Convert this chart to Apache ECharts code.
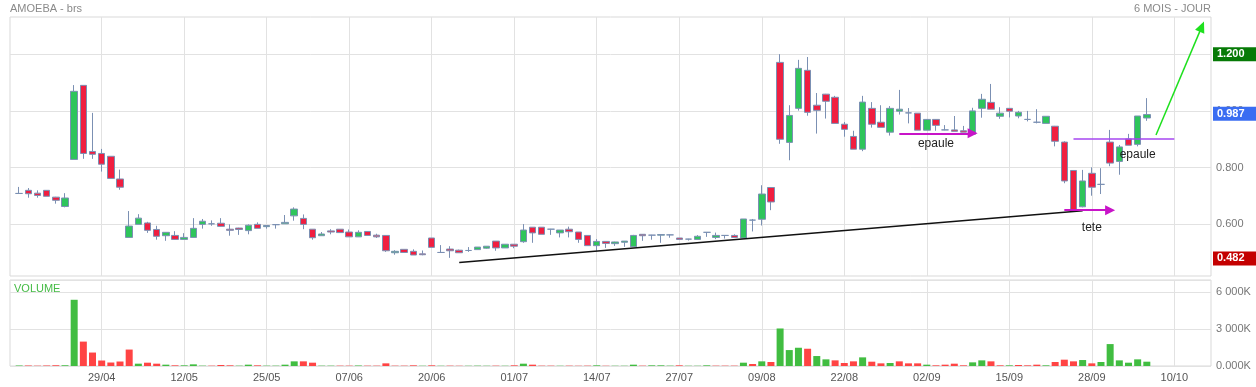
<!DOCTYPE html>
<html><head><meta charset="utf-8">
<script src="https://cdn.jsdelivr.net/npm/echarts@6/dist/echarts.min.js"></script>
<style>html,body{margin:0;padding:0;background:#fff}#c{width:1256px;height:387px}</style>
</head><body><div id="c"></div>
<script>
// ---- data ----
const opens  = [.709,.720,.710,.720,.696,.663,.829,1.090,.857,.850,.840,.760,.554,.600,.605,.582,.560,.561,.547,.554,
  .600,.602,.604,.583,.587,.578,.600,.592,.599,.602,.630,.621,.583,.560,.577,.583,.573,.556,.575,.562,
  .561,.500,.512,.505,.496,.552,.501,.513,.509,.508,.511,.516,.541,.517,.530,.539,.590,.590,.583,.570,
  .583,.573,.561,.525,.540,.532,.537,.521,.565,.562,.562,.563,.552,.548,.547,.572,.554,.561,.561,.552,
  .615,.618,.730,1.171,.889,1.009,1.143,1.020,1.059,1.048,.953,.910,.865,1.009,.960,.925,.999,.993,.992,.932,
  .970,.933,.933,.930,.918,1.009,1.030,.981,1.009,.982,.970,.960,.956,.946,.890,.790,.662,.780,.741,.890,
  .822,.901,.882,.975];
const closes = [.709,.708,.702,.699,.685,.693,1.069,.850,.847,.812,.762,.731,.594,.622,.579,.558,.572,.547,.554,.586,
  .611,.602,.593,.579,.582,.597,.586,.596,.599,.607,.654,.600,.553,.566,.573,.571,.556,.572,.561,.556,
  .507,.505,.501,.492,.493,.519,.501,.507,.500,.508,.520,.523,.517,.530,.523,.580,.570,.565,.583,.580,
  .574,.547,.525,.540,.533,.538,.541,.561,.560,.562,.564,.563,.547,.548,.558,.572,.561,.561,.554,.619,
  .615,.707,.679,.900,.984,1.150,.995,1.002,1.034,.956,.935,.865,1.031,.953,.942,1.009,1.006,.993,.932,.970,
  .949,.933,.928,.925,1.000,1.041,1.006,.992,.999,.995,.970,.960,.981,.893,.753,.650,.753,.731,.741,.816,
  .873,.879,.982,.987];
const lows   = [.707,.694,.694,.699,.673,.660,.829,.831,.831,.786,.762,.722,.554,.600,.570,.546,.542,.547,.547,.554,
  .585,.595,.593,.560,.563,.565,.586,.585,.585,.602,.613,.583,.546,.560,.565,.571,.556,.556,.561,.552,
  .503,.493,.501,.492,.491,.519,.501,.482,.500,.503,.511,.514,.507,.517,.516,.535,.535,.565,.563,.554,
  .554,.535,.525,.507,.517,.524,.521,.521,.542,.546,.535,.553,.547,.543,.547,.556,.548,.550,.554,.552,
  .575,.596,.650,.884,.826,1.001,.983,.920,.973,.956,.909,.865,.858,.941,.942,.913,.987,.956,.932,.932,
  .930,.932,.928,.925,.915,.976,1.006,.972,.977,.974,.963,.956,.956,.875,.745,.648,.660,.701,.707,.805,
  .775,.879,.875,.965];
const highs  = [.732,.728,.720,.720,.697,.710,1.091,1.090,.993,.866,.840,.793,.647,.636,.609,.595,.573,.576,.569,.622,
  .619,.614,.622,.600,.588,.600,.607,.597,.600,.633,.660,.635,.583,.573,.583,.583,.582,.579,.575,.567,
  .561,.509,.512,.512,.508,.552,.527,.523,.511,.520,.520,.523,.541,.530,.530,.601,.590,.590,.584,.580,
  .592,.573,.561,.548,.540,.539,.541,.563,.566,.563,.564,.564,.552,.549,.562,.573,.571,.562,.565,.619,
  .619,.738,.731,1.200,1.020,1.180,1.190,1.063,1.060,1.053,.961,.930,1.053,1.031,1.020,1.017,1.074,1.010,.992,.971,
  .971,.950,.982,.947,1.011,1.060,1.095,1.013,1.010,1.000,1.000,1.006,.981,.947,.893,.790,.792,.801,.798,.933,
  .880,.919,.982,1.045];
// volume in thousands of shares
const volumes = [40,40,25,40,60,60,5390,1986,1095,446,284,365,1338,189,270,189,108,54,54,135,
  27,27,81,54,27,108,54,27,27,108,378,378,270,27,27,27,27,40,27,27,
  216,27,27,54,20,54,20,27,20,20,27,20,27,20,54,189,108,27,27,20,
  27,20,27,54,20,20,20,108,27,54,54,27,54,20,20,54,27,27,27,270,
  162,378,324,3054,1297,1486,1405,811,541,459,243,378,703,351,216,243,378,216,216,108,
  54,108,189,54,297,459,378,54,54,81,54,108,54,324,514,378,486,216,324,1784,
  459,270,541,351];
// 1 = green volume bar, 0 = red volume bar
const volumeUp = [1,0,0,0,0,1,1,0,0,0,0,0,0,1,0,0,1,0,1,1,
  1,0,0,0,1,1,0,1,1,1,1,0,0,1,1,0,0,1,0,0,
  0,0,0,0,1,0,1,0,0,1,1,1,0,1,0,1,0,0,0,1,
  0,0,0,1,0,1,1,1,0,1,1,1,0,1,1,1,0,0,0,1,
  0,1,0,1,1,1,0,1,1,0,0,0,1,0,0,1,0,0,0,1,
  0,0,0,0,1,1,0,0,1,0,0,0,1,0,0,0,1,0,1,1,
  1,1,1,1];
const xTickLabels = ['29/04','12/05','25/05','07/06','20/06','01/07','14/07','27/07','09/08','22/08','02/09','15/09','28/09','10/10'];
const yTickValues = [0.6, 0.8, 1.0, 1.2];
const volTickLabels = ['0.000K', '3 000K', '6 000K'];

// ---- layout constants ----
const N_CATS = 132, FIRST_CAT = 1, LABEL_START = 10, LABEL_STEP = 9, VOL_STEP = 3000;
const FONT = 'Liberation Sans, Arial, sans-serif';
const UP = '#2ec55b', DOWN = '#f01e40', WICK = '#7b90b3';
const GRIDC = '#e2e2e2';

const categories = Array.from({length: N_CATS}, (_, i) => String(i));
const isLabelCat = (idx) => idx >= LABEL_START && (idx - LABEL_START) % LABEL_STEP === 0;
const candleData = opens.map((o, i) => [i + FIRST_CAT, o, closes[i], lows[i], highs[i]]);
const volData = volumes.map((v, i) => ({value: [i + FIRST_CAT, v], itemStyle: {color: volumeUp[i] ? '#41bd41' : '#ff4444'}}));

const periodHigh = Math.max(...highs);
const periodLow = Math.min(...lows);
const lastClose = closes[closes.length - 1];

function badge(v, bg) {
  return {yAxis: v, lineStyle: {color: 'rgba(0,0,0,0)', width: 1}, label: {show: true, position: 'end', distance: 2,
    formatter: v.toFixed(3), color: '#fff', fontSize: 11, fontWeight: 'bold', fontFamily: FONT,
    backgroundColor: bg, padding: [2, 16, 1, 4], lineHeight: 11}};
}
function seg(a, b, style, endSymbol, endSize) {
  return [{coord: a, symbol: 'none', lineStyle: style, label: {show: false}},
          {coord: b, symbol: endSymbol || 'none', symbolSize: endSize || 0}];
}
function note(c, v, text) {
  return {coord: [c, v], value: 0, label: {show: true, formatter: text}};
}

const chart = echarts.init(document.getElementById('c'), null, {renderer: 'canvas'});
chart.setOption({
  animation: false,
  backgroundColor: '#fff',
  textStyle: {fontFamily: FONT},
  title: [
    {text: 'AMOEBA - brs', left: 10, top: 3, padding: 0, textStyle: {fontSize: 11, color: '#8a8a8a', fontWeight: 'normal', fontFamily: FONT}},
    {text: '6 MOIS - JOUR', right: 45, top: 3, padding: 0, textStyle: {fontSize: 11, color: '#8a8a8a', fontWeight: 'normal', fontFamily: FONT}},
    {text: 'VOLUME', left: 14, top: 283, padding: 0, textStyle: {fontSize: 11, color: '#44bb44', fontWeight: 'normal', fontFamily: FONT}}
  ],
  grid: [
    {left: 10, right: 45, top: 17, height: 259, show: true, borderColor: '#d9d9d9', borderWidth: 1, backgroundColor: 'transparent'},
    {left: 10, right: 45, top: 280, height: 86, show: true, borderColor: '#d9d9d9', borderWidth: 1, backgroundColor: 'transparent'}
  ],
  xAxis: [
    {type: 'category', gridIndex: 0, data: categories, boundaryGap: false,
     axisLine: {show: false}, axisTick: {show: false}, axisLabel: {show: false},
     splitLine: {show: true, interval: (idx) => isLabelCat(idx), lineStyle: {color: GRIDC}}},
    {type: 'category', gridIndex: 1, data: categories, boundaryGap: false,
     axisLine: {show: false}, axisTick: {show: false},
     axisLabel: {show: true, interval: (idx) => isLabelCat(idx), margin: 6, color: '#555', fontSize: 11, fontFamily: FONT,
       formatter: (val, idx) => xTickLabels[(Number(val) - LABEL_START) / LABEL_STEP] || ''},
     splitLine: {show: true, interval: (idx) => isLabelCat(idx), lineStyle: {color: GRIDC}}}
  ],
  yAxis: [
    {type: 'value', gridIndex: 0, position: 'right', min: 0.418, max: 1.331,
     axisLine: {show: false},
     axisTick: {show: false, customValues: yTickValues},
     axisLabel: {customValues: yTickValues, formatter: (v) => v.toFixed(3), color: '#777', fontSize: 11, margin: 5, fontFamily: FONT},
     splitLine: {show: true, lineStyle: {color: GRIDC}}},
    {type: 'value', gridIndex: 1, position: 'right', min: 0, max: 7000, interval: VOL_STEP,
     axisLine: {show: false}, axisTick: {show: false},
     axisLabel: {formatter: (v) => (v % VOL_STEP === 0 ? volTickLabels[v / VOL_STEP] : '') || '', color: '#777', fontSize: 11, margin: 5, fontFamily: FONT},
     splitLine: {show: true, lineStyle: {color: GRIDC}}}
  ],
  series: [
    {type: 'candlestick', xAxisIndex: 0, yAxisIndex: 0, data: candleData,
     encode: {x: 0, y: [1, 2, 3, 4]}, barWidth: 7,
     itemStyle: {color: UP, color0: DOWN, borderColor: WICK, borderColor0: WICK, borderWidth: 1},
     markLine: {silent: true, animation: false, symbol: ['none', 'none'], label: {show: false},
       data: [
         badge(periodHigh, '#067a06'),
         badge(lastClose, '#3a6df2'),
         badge(periodLow, '#c40000'),
         seg([49.0, 0.466], [116.9, 0.648], {color: '#111', width: 1.5, type: 'solid'}),
         seg([97.0, 0.921], [105.1, 0.921], {color: '#c814c8', width: 2, type: 'solid'}, 'triangle', [10, 10]),
         seg([114.96, 0.650], [120.1, 0.650], {color: '#c814c8', width: 2, type: 'solid'}, 'triangle', [10, 10]),
         seg([116.06, 0.903], [126.82, 0.903], {color: '#a646f0', width: 1.5, type: 'solid'}),
         seg([125.36, 0.915], [129.93, 1.297], {color: '#1ee01e', width: 1.5, type: 'solid'}, 'triangle', [10, 11])
       ]},
     markPoint: {silent: true, animation: false, symbol: 'circle', symbolSize: 0,
       itemStyle: {color: 'transparent'},
       label: {show: true, position: 'inside', color: '#222', fontSize: 12, fontFamily: FONT},
       data: [note(100.98, 0.885, 'epaule'), note(118.13, 0.589, 'tete'), note(122.9, 0.845, 'epaule')]}
    },
    {type: 'bar', xAxisIndex: 1, yAxisIndex: 1, data: volData, barWidth: 7}
  ]
});
</script></body></html>
